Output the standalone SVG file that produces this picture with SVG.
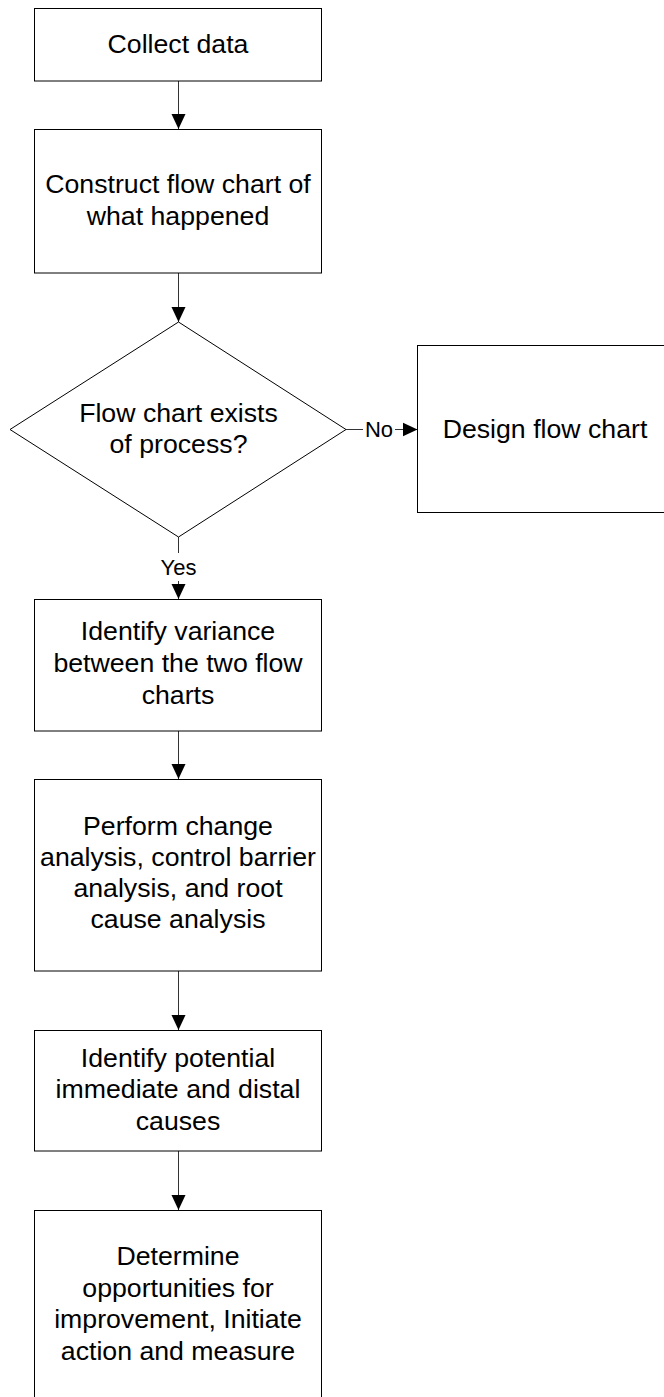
<svg xmlns="http://www.w3.org/2000/svg" width="664" height="1397" viewBox="0 0 664 1397">
<defs>
<style>
.box{fill:#fff;stroke:#000;stroke-width:1}
.t{font-family:"Liberation Sans",Arial,sans-serif;font-size:26.7px;fill:#000;text-anchor:middle}
.lbl{font-family:"Liberation Sans",Arial,sans-serif;font-size:22px;fill:#000;text-anchor:middle}
.c{fill:none;stroke:#333;stroke-width:1}
</style>
<marker id="ah" markerUnits="userSpaceOnUse" markerWidth="15" markerHeight="15" viewBox="0 0 15 14" refX="15" refY="7" orient="auto">
<path d="M0,0 L15,7 L0,14 Z" fill="#000"/>
</marker>
</defs>
<rect width="664" height="1397" fill="#fff"/>
<g id="connectors">
<path class="c" d="M178.5,81 V129" marker-end="url(#ah)"/>
<path class="c" d="M178.5,273 V322" marker-end="url(#ah)"/>
<path class="c" d="M346,429.5 H363"/>
<path class="c" d="M395,429.5 H417.5" marker-end="url(#ah)"/>
<path class="c" d="M178.5,537 V553"/>
<path class="c" d="M178.5,581 V599" marker-end="url(#ah)"/>
<path class="c" d="M178.5,731 V779" marker-end="url(#ah)"/>
<path class="c" d="M178.5,971 V1030" marker-end="url(#ah)"/>
<path class="c" d="M178.5,1151 V1210" marker-end="url(#ah)"/>
<text class="lbl" x="379" y="437">No</text>
<text class="lbl" x="178.5" y="575">Yes</text>
</g>
<g id="collect">
<rect class="box" x="34.5" y="8.5" width="287" height="72.5"/>
<text class="t" x="178" y="53">Collect data</text>
</g>
<g id="construct">
<rect class="box" x="34.5" y="129.5" width="287" height="143.5"/>
<text class="t" x="178" y="193">Construct flow chart of</text>
<text class="t" x="178" y="225">what happened</text>
</g>
<g id="decision">
<polygon class="box" points="178.5,322 346,429.5 178.5,537 10,429.5"/>
<text class="t" x="178.5" y="422">Flow chart exists</text>
<text class="t" x="178.5" y="453">of process?</text>
</g>
<g id="design">
<rect class="box" x="417.5" y="345.5" width="255" height="167"/>
<text class="t" x="545" y="438">Design flow chart</text>
</g>
<g id="variance">
<rect class="box" x="34.5" y="599.5" width="287" height="131.5"/>
<text class="t" x="178" y="640">Identify variance</text>
<text class="t" x="178" y="672">between the two flow</text>
<text class="t" x="178" y="704">charts</text>
</g>
<g id="analysis">
<rect class="box" x="34.5" y="779.5" width="287" height="191.5"/>
<text class="t" x="178" y="835">Perform change</text>
<text class="t" x="178" y="866">analysis, control barrier</text>
<text class="t" x="178" y="897">analysis, and root</text>
<text class="t" x="178" y="928">cause analysis</text>
</g>
<g id="causes">
<rect class="box" x="34.5" y="1030.5" width="287" height="120.5"/>
<text class="t" x="178" y="1067">Identify potential</text>
<text class="t" x="178" y="1098">immediate and distal</text>
<text class="t" x="178" y="1130">causes</text>
</g>
<g id="determine">
<rect class="box" x="34.5" y="1210.5" width="287" height="200"/>
<text class="t" x="178" y="1265">Determine</text>
<text class="t" x="178" y="1297">opportunities for</text>
<text class="t" x="178" y="1328">improvement, Initiate</text>
<text class="t" x="178" y="1360">action and measure</text>
</g>
</svg>
